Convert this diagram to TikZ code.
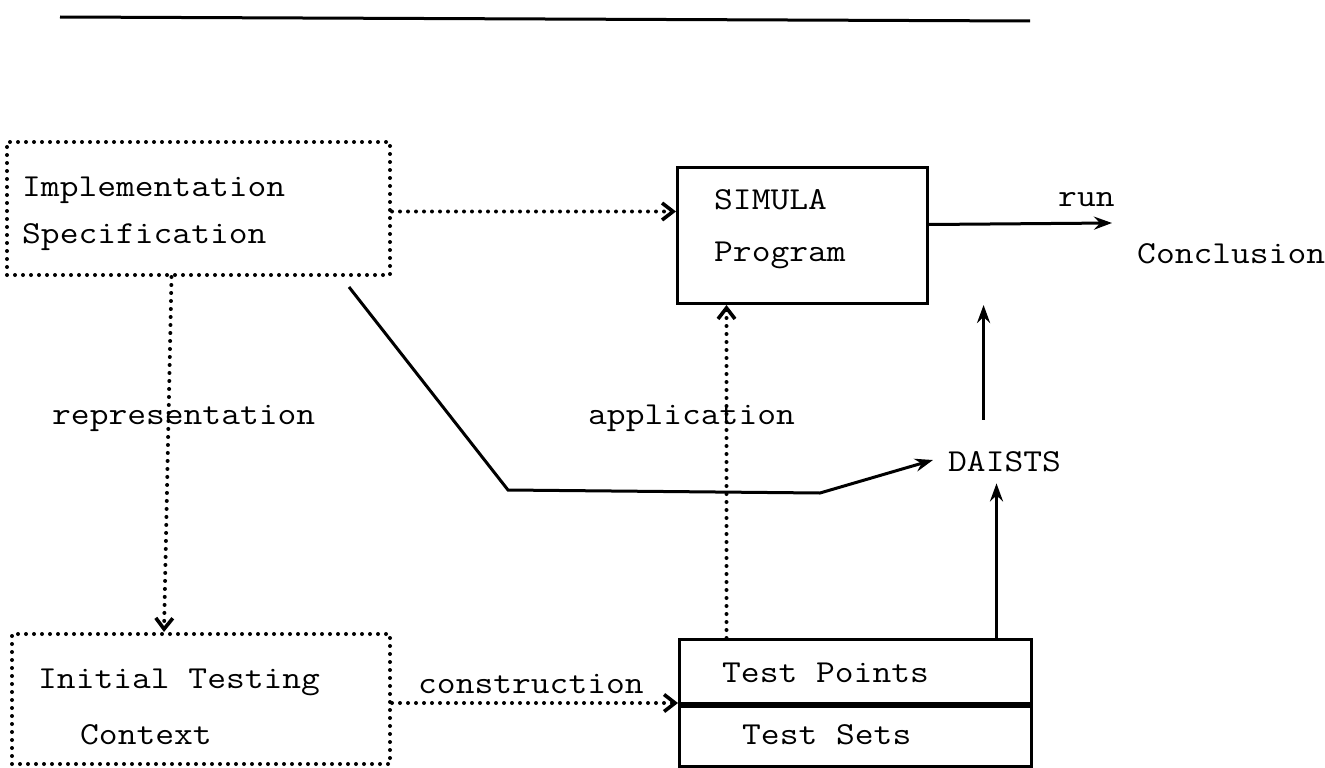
\documentclass[tikz,border=0pt]{standalone}
\usepackage{fontspec}
\newfontfamily\courfont{Latin Modern Mono}[FakeStretch=1.14]
\usetikzlibrary{arrows.meta}
\begin{document}
\begin{tikzpicture}[x=1pt,y=-1pt,
  lbl/.style={font=\courfont\fontsize{32}{38}\selectfont, inner sep=0pt, anchor=west},
  dotbox/.style={draw, line width=4pt, dash pattern=on 0pt off 8pt, line cap=round, inner sep=0pt, anchor=north west},
  solidbox/.style={draw, line width=3pt, inner sep=0pt, anchor=north west},
  dotline/.style={line width=4pt, dash pattern=on 0pt off 8pt, line cap=round},
  solidline/.style={line width=3pt},
  barb/.style={-{Straight Barb[length=11pt,width=17pt,line width=3.6pt]}},
  head/.style={-{Stealth[length=18pt,width=13pt,inset=6pt]}},
]
\useasboundingbox (0,0) rectangle (1325,768);

% rule across the top of the page
\draw[line width=3pt] (60,17) -- (1030,21);

% boxes
\node[dotbox, minimum width=383pt, minimum height=133pt] (impl) at (5,140) {};
\node[solidbox, minimum width=250pt, minimum height=136pt] (prog) at (676,166) {};
\node[dotbox, minimum width=378pt, minimum height=130pt] (init) at (10,632) {};
\node[solidbox, minimum width=352pt, minimum height=64pt] (tpts) at (678,638) {};
\node[solidbox, minimum width=352pt, minimum height=63pt] (tsets) at (678,702) {};
\draw[line width=5pt] (tpts.south west) -- (tpts.south east);

% box texts
\node[lbl] (implA) at (22,190) {Implementation};
\node[lbl] (implB) at (22,237) {Specification};
\node[lbl] (progA) at (714,200) {SIMULA};
\node[lbl] (progB) at (714,255) {Program};
\node[lbl] (initA) at (38,682) {Initial Testing};
\node[lbl] (initB) at (80,735) {Context};
\node[lbl] (tptsT) at (722,673) {Test Points};
\node[lbl] (tsetsT) at (742,735) {Test Sets};

% free labels
\node[lbl] (daists) at (948,462) {DAISTS};
\node[lbl] (run) at (1058,200) {run};
\node[lbl] (concl) at (1137,254) {Conclusion};
\node[lbl] (repr) at (52,418) {representation};
\node[lbl] (appl) at (588,418) {application};
\node[lbl] (constr) at (418,684) {construction};

% connectors
\coordinate (runend) at (1112,223);
\coordinate (bendA) at (508,490);
\coordinate (bendB) at (820,493);

\draw[dotline, barb] ([yshift=-3pt]impl.east) -- ([yshift=-3pt]impl.east -| prog.west);
\draw[dotline, barb] ([xshift=-27pt]impl.south) -- ([xshift=-37pt]init.north);
\draw[dotline, barb] ([yshift=-4pt]init.east) -- ([yshift=-4pt]init.east -| tpts.west);
\draw[dotline, barb] ([xshift=-129pt]tpts.north) -- ([xshift=-129pt]tpts.north |- prog.south);
\draw[solidline, head] ([yshift=11pt]prog.east) -- (runend);
\draw[solidline, head] ([xshift=-43pt,yshift=-10pt]impl.south east) -- (bendA) -- (bendB) -- ([xshift=-15pt,yshift=2pt]daists.west);
\draw[solidline, head] ([xshift=-21pt,yshift=32pt]daists.north) -- ([xshift=-21pt]daists.north |- prog.south);
\draw[solidline, head] ([xshift=141pt]tpts.north) -- ([xshift=141pt,yshift=-11pt]tpts.north |- daists.south);
\end{tikzpicture}
\end{document}
